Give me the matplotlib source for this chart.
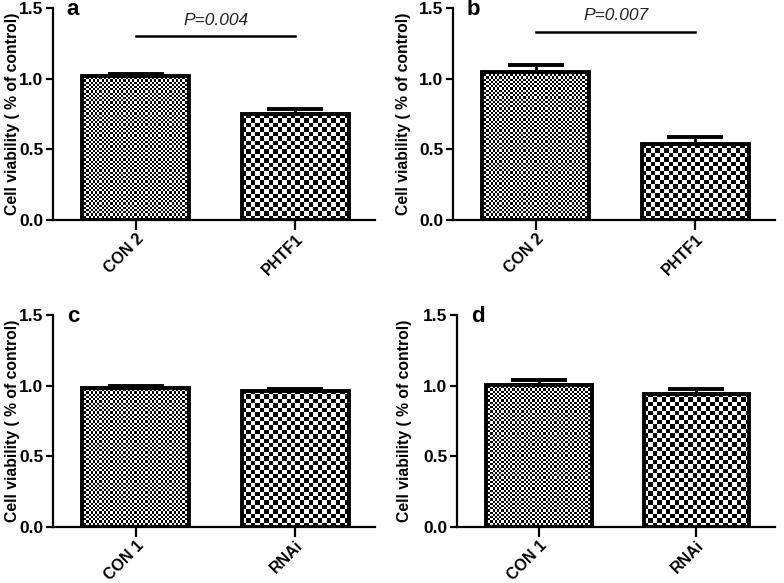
import matplotlib

matplotlib.use("Agg")
import matplotlib.pyplot as plt
import numpy as np

plt.rcParams["font.family"] = ["Liberation Sans", "DejaVu Sans"]

# panel data
LABELS_AB = ["CON 2", "PHTF1"]
LABELS_CD = ["CON 1", "RNAi"]
MEANS_A = [1.02, 0.748]
ERRS_A = [0.015, 0.036]
MEANS_B = [1.045, 0.535]
ERRS_B = [0.052, 0.055]
MEANS_C = [0.985, 0.963]
ERRS_C = [0.012, 0.015]
MEANS_D = [1.005, 0.942]
ERRS_D = [0.033, 0.035]
P_TEXT = {"a": "P=0.004", "b": "P=0.007"}
P_LINE_Y = {"a": 1.30, "b": 1.33}
P_TEXT_Y = {"a": 1.41, "b": 1.45}

W, H = 784, 583
# axes boxes in pixels: left, right, top, bottom, ylabel left edge
BOXES = {
    "a": (53, 375, 8, 220, 5),
    "b": (453, 775, 8, 220, 396),
    "c": (53, 375, 315, 527, 5),
    "d": (457, 775, 315, 527, 397),
}
CELL_PX = [2.2, 4.4]


def _checker_bar(ax, patch, cell_px, px_per_x, px_per_y):
    x0, y0 = patch.get_x(), patch.get_y()
    w, h = patch.get_width(), patch.get_height()
    nx = max(1, int(round(w * px_per_x / cell_px)))
    ny = max(1, int(round(h * px_per_y / cell_px)))
    img = (np.add.outer(np.arange(ny), np.arange(nx)) % 2).astype(float)
    ax.imshow(img, extent=(x0, x0 + w, y0, y0 + h), cmap="gray", vmin=0, vmax=1,
              interpolation="nearest", aspect="auto", origin="lower",
              clip_path=patch, clip_on=True, zorder=1)


def draw_panel(fig, key, labels, means, errs):
    l, r, t, b, lab_x = BOXES[key]
    ax = fig.add_axes([l / W, 1 - b / H, (r - l) / W, (b - t) / H])
    xlim = (-0.52, 1.5)
    ylim = (0, 1.5)
    px_per_x = (r - l) / (xlim[1] - xlim[0])
    px_per_y = (b - t) / (ylim[1] - ylim[0])
    x = np.arange(len(labels))
    bars = ax.bar(x, means, width=0.67, facecolor="none", edgecolor="black",
                  linewidth=2.8, zorder=3)
    for patch, cell in zip(bars.patches, CELL_PX):
        _checker_bar(ax, patch, cell, px_per_x, px_per_y)
    ax.errorbar(x, means, yerr=[np.zeros(len(means)), errs], fmt="none",
                ecolor="black", elinewidth=2.2, capsize=20, capthick=2.8, zorder=2)
    if key in P_TEXT:
        ax.plot([x[0], x[1]], [P_LINE_Y[key]] * 2, color="black", lw=1.8, clip_on=False)
        ax.text((x[0] + x[1]) / 2, P_TEXT_Y[key], P_TEXT[key], style="italic",
                fontsize=12.5, color="#222222", ha="center", va="center")
    ax.set_xlim(*xlim)
    ax.set_ylim(*ylim)
    ax.set_yticks([0, 0.5, 1.0, 1.5])
    ax.set_yticklabels(["0.0", "0.5", "1.0", "1.5"], fontsize=12.5, fontweight="bold")
    ax.set_xticks(x)
    ax.set_xticklabels(labels, rotation=45, ha="right", rotation_mode="anchor",
                       fontsize=11.5, fontweight="bold")
    ax.tick_params(axis="both", width=1.6, length=5, pad=2)
    ax.tick_params(axis="x", length=7, pad=1)
    for side in ["top", "right"]:
        ax.spines[side].set_visible(False)
    for side in ["left", "bottom"]:
        ax.spines[side].set_linewidth(1.6)
    ax.set_ylabel("Cell viability ( % of control)", fontsize=11.3, fontweight="bold")
    ax.yaxis.set_label_coords((lab_x - l) / (r - l), 0.5)
    ax.yaxis.label.set_va("top")
    ax.text(0.043, 0.965, key, transform=ax.transAxes, fontsize=16, fontweight="bold",
            ha="left", va="baseline")
    return ax


fig = plt.figure(figsize=(W / 100, H / 100), dpi=100)
draw_panel(fig, "a", LABELS_AB, MEANS_A, ERRS_A)
draw_panel(fig, "b", LABELS_AB, MEANS_B, ERRS_B)
draw_panel(fig, "c", LABELS_CD, MEANS_C, ERRS_C)
draw_panel(fig, "d", LABELS_CD, MEANS_D, ERRS_D)
fig.savefig("out.png", dpi=100)
